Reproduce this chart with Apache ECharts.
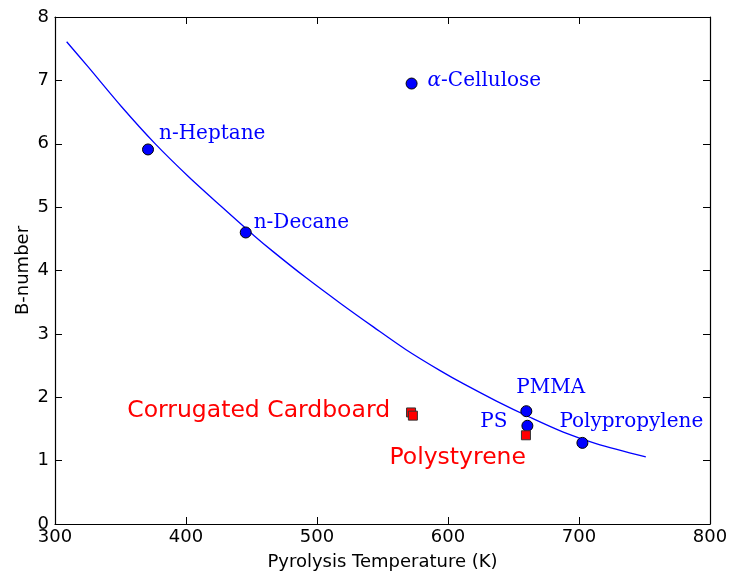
<!DOCTYPE html>
<html>
<head>
<meta charset="utf-8">
<script src="https://cdn.jsdelivr.net/npm/echarts@6/dist/echarts.min.js"></script>
<style>
  html, body { margin: 0; padding: 0; background: #fff; }
  #chart { width: 733px; height: 578px; }
</style>
</head>
<body>
<div id="chart"></div>
<script>
// Fuels: pyrolysis temperature (K) and B-number
const fuelNames = ['n-Heptane', 'n-Decane', 'α-Cellulose', 'PMMA', 'PS', 'Polypropylene'];
const fuelTemp  = [371, 445.6, 572.2, 659.8, 660.6, 702.6];
const fuelB     = [5.91, 4.60, 6.95, 1.78, 1.55, 1.28];

// Measured samples (red squares)
const sampleNames = ['Corrugated Cardboard', '', 'Polystyrene'];
const sampleTemp  = [571.8, 573.2, 659.5];
const sampleB     = [1.76, 1.71, 1.40];

// Correlation curve
const curveTemp = [308.9, 325, 351, 376, 402, 427, 452, 467, 492, 518, 543, 568, 594, 612, 637, 663, 688, 713, 751];
const curveB    = [7.61, 7.22, 6.58, 6.01, 5.48, 5.01, 4.55, 4.29, 3.88, 3.48, 3.11, 2.75, 2.42, 2.21, 1.94, 1.68, 1.45, 1.27, 1.06];

// Axis ranges
const xMin = 300, xMax = 800, xStep = 100;
const yMin = 0, yMax = 8, yStep = 1;

const BLUE = '#0000ff';
const RED = '#ff0000';
const SANS = 'DejaVu Sans';
const SERIF = 'DejaVu Serif';

// Text placement relative to each marker: [align, dx, dy]
const fuelLabelPlace = {
  'n-Heptane':     ['left', 11, -16],
  'n-Decane':      ['left', 8, -10],
  'α-Cellulose':   ['left', 16, -3],
  'PMMA':          ['left', -10, -23],
  'PS':            ['right', -20, -4],
  'Polypropylene': ['left', -23, -21]
};
const sampleLabelPlace = {
  'Corrugated Cardboard': ['right', -21, -2],
  'Polystyrene':          ['right', 0, 23]
};

const fuelData = fuelNames.map((n, i) => {
  const p = fuelLabelPlace[n];
  const item = {
    name: n,
    value: [fuelTemp[i], fuelB[i]],
    label: {
      show: true,
      position: 'inside',
      align: p[0],
      verticalAlign: 'middle',
      offset: [p[1], p[2]],
      color: BLUE,
      opacity: 1,
      fontFamily: SERIF,
      fontSize: 20,
      formatter: n
    }
  };
  if (n === 'α-Cellulose') {
    item.label.formatter = '{g|α}-Cellulose';
    item.label.rich = {
      g: { fontFamily: SERIF, fontStyle: 'italic', fontSize: 20, color: BLUE }
    };
  }
  return item;
});

const sampleData = sampleNames.map((n, i) => {
  const item = { name: n, value: [sampleTemp[i], sampleB[i]] };
  if (n) {
    const p = sampleLabelPlace[n];
    item.label = {
      show: true,
      position: 'inside',
      align: p[0],
      verticalAlign: 'middle',
      offset: [p[1], p[2]],
      color: RED,
      opacity: 1,
      fontFamily: SANS,
      fontSize: 23.5,
      formatter: n
    };
  }
  return item;
});

const axisLine = { show: true, onZero: false, lineStyle: { color: '#000', width: 1.2 } };
const axisTick = { show: true, inside: true, length: 7, lineStyle: { color: '#000', width: 1 } };

const chart = echarts.init(document.getElementById('chart'), null, { renderer: 'canvas' });
chart.setOption({
  animation: false,
  backgroundColor: '#fff',
  grid: { left: 55, right: 23, top: 17, bottom: 54, containLabel: false },
  xAxis: [
    {
      type: 'value', min: xMin, max: xMax, interval: xStep, position: 'bottom',
      name: 'Pyrolysis Temperature (K)', nameLocation: 'middle', nameGap: 29,
      nameMoveOverlap: false,
      nameTextStyle: { fontFamily: SANS, fontSize: 18, color: '#000' },
      axisLine, axisTick,
      axisLabel: { fontFamily: SANS, fontSize: 18, color: '#000', margin: 4 },
      splitLine: { show: false }
    },
    {
      type: 'value', min: xMin, max: xMax, interval: xStep, position: 'top',
      axisLine, axisTick, axisLabel: { show: false }, splitLine: { show: false }
    }
  ],
  yAxis: [
    {
      type: 'value', min: yMin, max: yMax, interval: yStep, position: 'left',
      name: 'B-number', nameLocation: 'middle', nameGap: 23,
      nameMoveOverlap: false,
      nameTextStyle: { fontFamily: SANS, fontSize: 18, color: '#000' },
      axisLine, axisTick,
      axisLabel: { fontFamily: SANS, fontSize: 18, color: '#000', margin: 6 },
      splitLine: { show: false }
    },
    {
      type: 'value', min: yMin, max: yMax, interval: yStep, position: 'right',
      axisLine, axisTick, axisLabel: { show: false }, splitLine: { show: false }
    }
  ],
  series: [
    {
      type: 'line',
      name: 'fit',
      data: curveTemp.map((t, i) => [t, curveB[i]]),
      smooth: 0.3,
      showSymbol: false,
      lineStyle: { color: BLUE, width: 1.3, opacity: 1 },
      z: 2
    },
    {
      type: 'scatter',
      name: 'fuels',
      data: fuelData,
      symbol: 'circle',
      symbolSize: 11,
      itemStyle: { color: BLUE, borderColor: '#000', borderWidth: 1, opacity: 1 },
      z: 3
    },
    {
      type: 'scatter',
      name: 'samples',
      data: sampleData,
      symbol: 'rect',
      symbolSize: 9,
      itemStyle: { color: RED, borderColor: '#333', borderWidth: 1, opacity: 1 },
      z: 4
    }
  ]
});
</script>
</body>
</html>
